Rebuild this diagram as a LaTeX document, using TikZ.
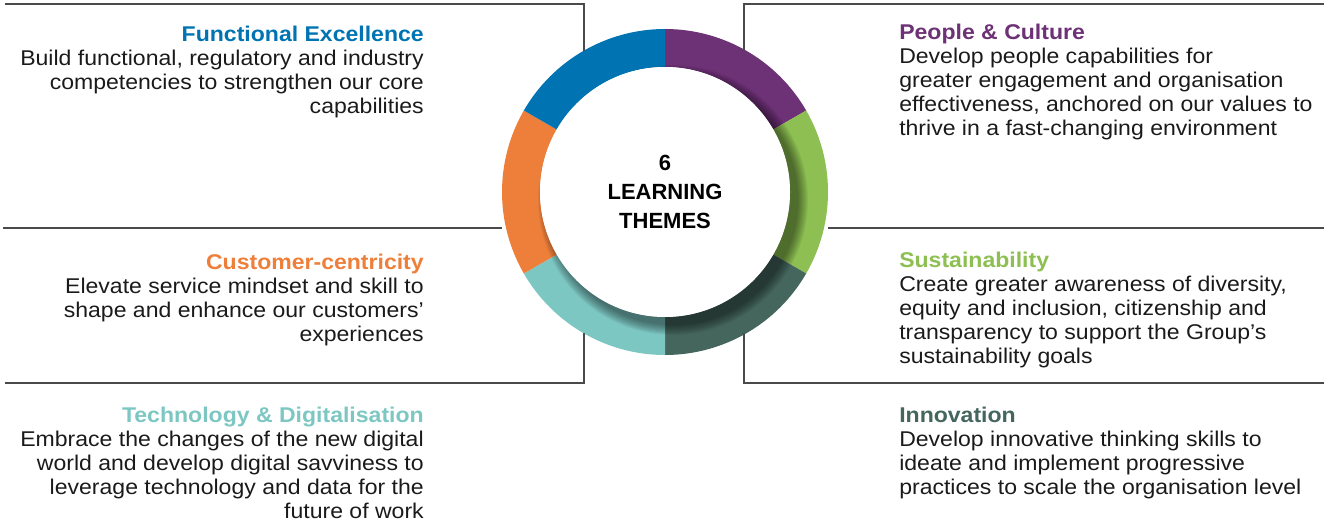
\documentclass[tikz,border=0pt]{standalone}
\usepackage{fontspec}
\setmainfont{Liberation Sans}
\newfontfamily\bodyfont{Liberation Sans}[FakeStretch=1.08]
\usepackage{xcolor}
\usetikzlibrary{positioning}
\definecolor{Theme_Purple}{HTML}{6D3175}
\definecolor{Theme_Green}{HTML}{8DBF52}
\definecolor{Theme_Forest}{HTML}{45665D}
\definecolor{Theme_Teal}{HTML}{7DC7C3}
\definecolor{Theme_Orange}{HTML}{EE7F3B}
\definecolor{Theme_Blue}{HTML}{0074B2}
\definecolor{Theme_Ink}{HTML}{1A1A1A}
\definecolor{Theme_Rule}{HTML}{4A4A4A}

\begin{document}
\begin{tikzpicture}[x=0.75pt, y=0.75pt,
    frame/.style={draw=Theme_Rule, line width=0.8pt},
    theme/.style={inner sep=0pt, text=Theme_Ink, font=\bodyfont\fontsize{16}{18}\selectfont},
    leftblock/.style={theme, anchor=base east, align=right},
    rightblock/.style={theme, anchor=base west, align=left},
    centre/.style={inner sep=0pt, align=center, font=\rmfamily\bfseries\fontsize{16.5}{21.75}\selectfont}]
    \useasboundingbox (0,0) rectangle (1330,-524);

    % Ring of six themes
    \foreach \a/\b/\c in {90/30/Theme_Purple, 30/-30/Theme_Green, -30/-90/Theme_Forest,
                          -90/-150/Theme_Teal, 210/150/Theme_Orange, 150/90/Theme_Blue}
        \fill[\c, shift={(665,-192)}] (\a:163) arc[start angle=\a, end angle=\b, radius=163]
            -- (\b:125) arc[start angle=\b, end angle=\a, radius=125] -- cycle;

    % Inner shadow
    \begin{scope}
        \clip (665,-192) circle (163);
        \foreach \k in {1,...,10}
            \fill[black, opacity=0.05] (673,-200) circle ({124+1.1*\k});
    \end{scope}
    \fill[white] (665,-192) circle (125);

    % Centre title
    \node[centre] (themes) at (665,-192) {6\\LEARNING\\THEMES};

    % Frame lines
    \draw[frame] (5,-4) -- (584,-4) -- (584,-51);
    \draw[frame] (744,-51) -- (744,-4) -- (1324,-4);
    \draw[frame] (3,-228) -- (502,-228);
    \draw[frame] (828,-228) -- (1324,-228);
    \draw[frame] (584,-333) -- (584,-383) -- (5,-383);
    \draw[frame] (744,-333) -- (744,-383) -- (1324,-383);

    % Left column (anchored on the last line)
    \node[leftblock] (funcexc) at (424,-114) {\textcolor{Theme_Blue}{\bfseries Functional Excellence}\\
        Build functional, regulatory and industry\\
        competencies to strengthen our core\\
        capabilities};
    \node[leftblock] (custcen) at (424,-341) {\textcolor{Theme_Orange}{\bfseries Customer-centricity}\\
        Elevate service mindset and skill to\\
        shape and enhance our customers’\\
        experiences};
    \node[leftblock] (techdig) at (424,-518) {\textcolor{Theme_Teal}{\bfseries Technology \& Digitalisation}\\
        Embrace the changes of the new digital\\
        world and develop digital savviness to\\
        leverage technology and data for the\\
        future of work};

    % Right column
    \node[rightblock] (peopcul) at (899,-136) {\textcolor{Theme_Purple}{\bfseries People \& Culture}\\
        Develop people capabilities for\\
        greater engagement and organisation\\
        effectiveness, anchored on our values to\\
        thrive in a fast-changing environment};
    \node[rightblock] (sustain) at (899,-363) {\textcolor{Theme_Green}{\bfseries Sustainability}\\
        Create greater awareness of diversity,\\
        equity and inclusion, citizenship and\\
        transparency to support the Group’s\\
        sustainability goals};
    \node[rightblock] (innov) at (899,-494) {\textcolor{Theme_Forest}{\bfseries Innovation}\\
        Develop innovative thinking skills to\\
        ideate and implement progressive\\
        practices to scale the organisation level};

\end{tikzpicture}
\end{document}
